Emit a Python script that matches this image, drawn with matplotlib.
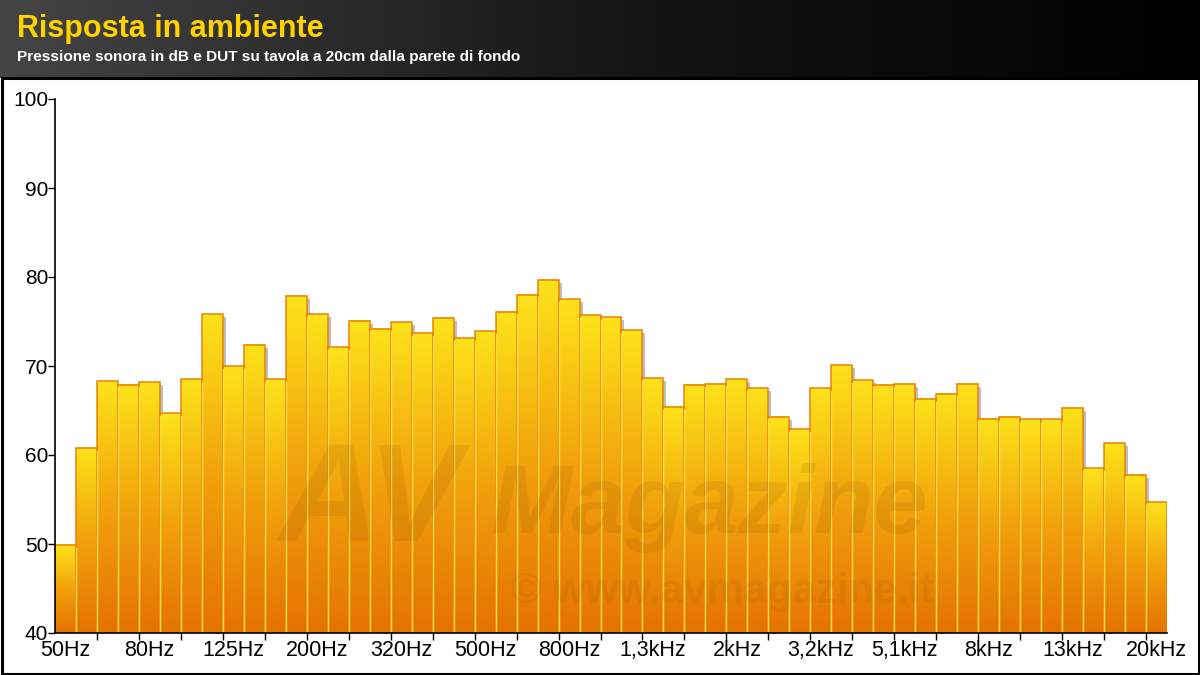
#!/usr/bin/env python3
import numpy as np
import matplotlib
matplotlib.use('AGG')
from matplotlib import pyplot as plt
from matplotlib.patches import Rectangle
from matplotlib.colors import LinearSegmentedColormap

plt.rcParams['font.family'] = ['Liberation Sans', 'DejaVu Sans']

# 1/6 octave bands, 50 Hz .. 20 kHz
bands = ['50', '56', '63', '71', '80', '90', '100', '112', '125', '140', '160', '180',
         '200', '224', '250', '280', '315', '355', '400', '450', '500', '560', '630', '710',
         '800', '900', '1k', '1,1k', '1,3k', '1,4k', '1,6k', '1,8k', '2k', '2,2k', '2,5k',
         '2,8k', '3,2k', '3,6k', '4k', '4,5k', '5,1k', '5,7k', '6,4k', '7,1k', '8k', '9k',
         '10k', '11k', '13k', '14k', '16k', '18k', '20k']
spl = [49.9, 60.8, 68.3, 67.9, 68.2, 64.7, 68.5, 75.8, 70.0, 72.4, 68.5, 77.9,
       75.8, 72.1, 75.1, 74.2, 74.9, 73.7, 75.4, 73.1, 73.9, 76.1, 78.0, 79.7,
       77.5, 75.7, 75.5, 74.0, 68.6, 65.4, 67.9, 68.0, 68.5, 67.5, 64.3, 62.9,
       67.5, 70.1, 68.4, 67.9, 68.0, 66.3, 66.9, 68.0, 64.1, 64.3, 64.0, 64.0,
       65.3, 58.5, 61.3, 57.8, 54.7]
tick_labels = ['50Hz', '80Hz', '125Hz', '200Hz', '320Hz', '500Hz', '800Hz', '1,3kHz',
               '2kHz', '3,2kHz', '5,1kHz', '8kHz', '13kHz', '20kHz']

W, H = 1200, 675
fig = plt.figure(figsize=(12, 6.75), dpi=100)
fig.patch.set_facecolor('white')

# header band
hdr = fig.add_axes([0, 1 - 78 / H, 1, 78 / H])
hdr.imshow(np.linspace(0, 1, 256)[None, :], aspect='auto', extent=[0, 1, 0, 1],
           cmap=LinearSegmentedColormap.from_list('h', ['#454545', '#161616', '#000000']))
hdr.set_axis_off()
fig.text(17 / W, 1 - 29 / H, 'Risposta in ambiente', color='#FFD200', fontsize=22,
         fontweight='bold', va='center', ha='left')
fig.text(17 / W, 1 - 57 / H, 'Pressione sonora in dB e DUT su tavola a 20cm dalla parete di fondo',
         color='white', fontsize=11.1, fontweight='bold', va='center', ha='left')

# panel border
fig.patches.append(Rectangle((1.5 / W, 1.5 / H), 1 - 3 / W, 1 - 78 / H - 1.5 / H,
                             transform=fig.transFigure, fill=False, edgecolor='black',
                             linewidth=2.2))

ax = fig.add_axes([55 / W, 1 - 633 / H, (1167 - 55) / W, (633 - 99) / H])
ax.set_xlim(-0.5, len(spl) - 0.5)
ax.set_ylim(40, 100)

grad = LinearSegmentedColormap.from_list('bar', ['#E57203', '#F2A20C', '#FDE31A'])
g = np.linspace(0, 1, 256)[:, None]
dx = 3 / 20.98
dy = 3 / 8.9
for i, v in enumerate(spl):
    # drop shadow
    ax.add_patch(Rectangle((i - 0.5 + dx, 40), 1, v - 40 - dy, facecolor='#888888',
                           alpha=0.55, edgecolor='none', zorder=1))
for i, v in enumerate(spl):
    ax.imshow(g, aspect='auto', origin='lower', cmap=grad,
              extent=[i - 0.5, i + 0.5, 40, v], zorder=2)
    ax.add_patch(Rectangle((i - 0.5, 40), 1, v - 40, fill=False, edgecolor='#E8820C',
                           linewidth=1.1, zorder=3))
    if i > 0:
        top = min(v, spl[i - 1])
        ax.plot([i - 0.5, i - 0.5], [40, top - 0.3], color='#FFE04A', lw=1.0, zorder=4)

# watermark
ax.text(14.5, 54.4, 'AV', fontsize=100, fontweight='bold', style='italic', color='#7a4a00',
        alpha=0.12, ha='center', va='center', zorder=5)
ax.text(30.7, 54.0, 'Magazine', fontsize=70, fontweight='bold', style='italic',
        color='#7a4a00', alpha=0.12, ha='center', va='center', zorder=5)
ax.text(31.3, 44.6, '\u00a9 www.avmagazine.it', fontsize=30, fontweight='bold',
        color='#7a4a00', alpha=0.1, ha='center', va='center', zorder=5)

ax.set_xlim(-0.5, len(spl) - 0.5)
ax.set_ylim(40, 100)
ax.set_yticks(range(40, 101, 10))
ax.set_xticks(range(0, len(spl), 4))
ax.set_xticklabels(tick_labels)
ax.set_xticks(np.arange(1.5, len(spl) - 0.5, 2), minor=True)
ax.tick_params(axis='x', which='major', length=0, pad=5, labelsize=15.5)
ax.tick_params(axis='x', which='minor', length=5, width=1, direction='out')
ax.tick_params(axis='y', length=5, width=1, pad=0, labelsize=15)
for s in ['top', 'right']:
    ax.spines[s].set_visible(False)
for s in ['left', 'bottom']:
    ax.spines[s].set_linewidth(1.2)
    ax.spines[s].set_zorder(6)

fig.savefig('out.png', dpi=100)
